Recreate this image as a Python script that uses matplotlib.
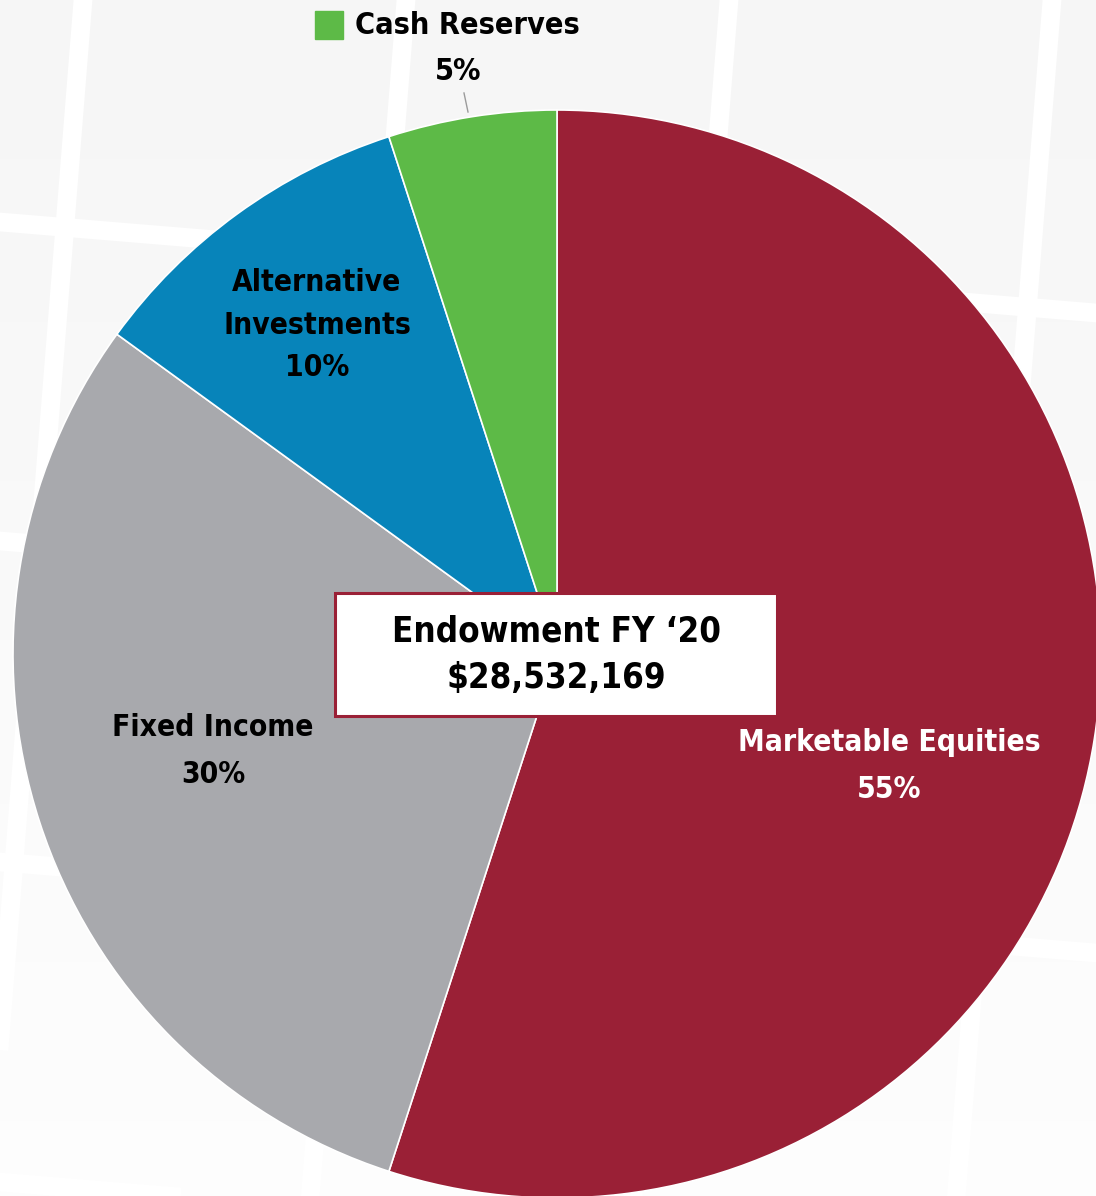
import matplotlib.pyplot as plt
import matplotlib.patches as mpatches
import numpy as np

# Data
labels = ['Marketable Equities', 'Fixed Income', 'Alternative\nInvestments', 'Cash Reserves']
values = [55, 30, 10, 5]
colors = ['#9a2036', '#a8a9ad', '#0784ba', '#5dba47']
total_label = 'Endowment FY \u201820\n$28,532,169'

W, H = 1096, 1196
plt.rcParams['font.family'] = ['DejaVu Sans']
plt.rcParams['font.stretch'] = 'condensed'


def ty(y):
    # top-down pixel -> axes y
    return H - y


fig = plt.figure(figsize=(W / 100, H / 100), dpi=100)
ax = fig.add_axes([0, 0, 1, 1])

# background: soft vertical gradient
grad = np.linspace(0.961, 0.990, 256).reshape(-1, 1)
ax.imshow(grad, extent=[0, W, 0, H], cmap='gray', vmin=0, vmax=1,
          aspect='auto', origin='upper', zorder=0)

# tilted white grid behind the pie
xs = np.array([-100, W + 100])
ys = np.array([-100, H + 100])
for x0 in [83, 406, 729, 1052]:
    ax.plot(x0 - 0.08 * ys, [ty(v) for v in ys], color='white', lw=13.5, zorder=1,
            solid_capstyle='butt')
for y0 in [222, 541, 862, 1182]:
    ax.plot(xs, [ty(y0 + 0.083 * v) for v in xs], color='white', lw=13.5, zorder=1,
            solid_capstyle='butt')

# pie
wedges, _ = ax.pie(values, colors=colors, startangle=90, counterclock=False,
                   center=(557, ty(654)), radius=544,
                   wedgeprops=dict(edgecolor='white', linewidth=1.2))
for w in wedges:
    w.set_zorder(2)

ax.set_xlim(0, W)
ax.set_ylim(0, H)
ax.set_aspect('auto')
ax.axis('off')

lab_kw = dict(ha='center', va='center', fontweight='bold', fontsize=21.5,
              fontstretch='condensed', zorder=5)

# slice labels
ax.text(889, ty(766), f'{labels[0]}\n{values[0]}%', color='white',
        linespacing=1.75, **lab_kw)
ax.text(213, ty(751), f'{labels[1]}\n{values[1]}%', color='black',
        linespacing=1.75, **lab_kw)
ax.text(317, ty(325), f'{labels[2]}\n{values[2]}%', color='black',
        linespacing=1.6, **lab_kw)

# cash reserves sits outside with a legend square and leader line
ax.add_patch(mpatches.Rectangle((315, ty(39)), 28, 28, color=colors[3], zorder=5))
ax.text(355, ty(25), labels[3], ha='left', va='center', fontweight='bold',
        fontstretch='condensed', fontsize=22, color='black', zorder=5)
ax.text(458, ty(71), f'{values[3]}%', ha='center', va='center', fontweight='bold',
        fontstretch='condensed', fontsize=22, color='black', zorder=5)
ax.plot([464, 468], [ty(93), ty(112)], color='#9b9b9b', lw=1, zorder=5)

# centre box
ax.add_patch(mpatches.Rectangle((335, ty(716)), 442, 123, facecolor='white',
                                edgecolor='#9a2036', lw=2.2, zorder=6))
ax.text(556, ty(655), total_label, ha='center', va='center', fontweight='bold',
        fontstretch='condensed', fontsize=25, linespacing=1.45, color='black',
        zorder=7)

fig.savefig('out.png', dpi=100)
